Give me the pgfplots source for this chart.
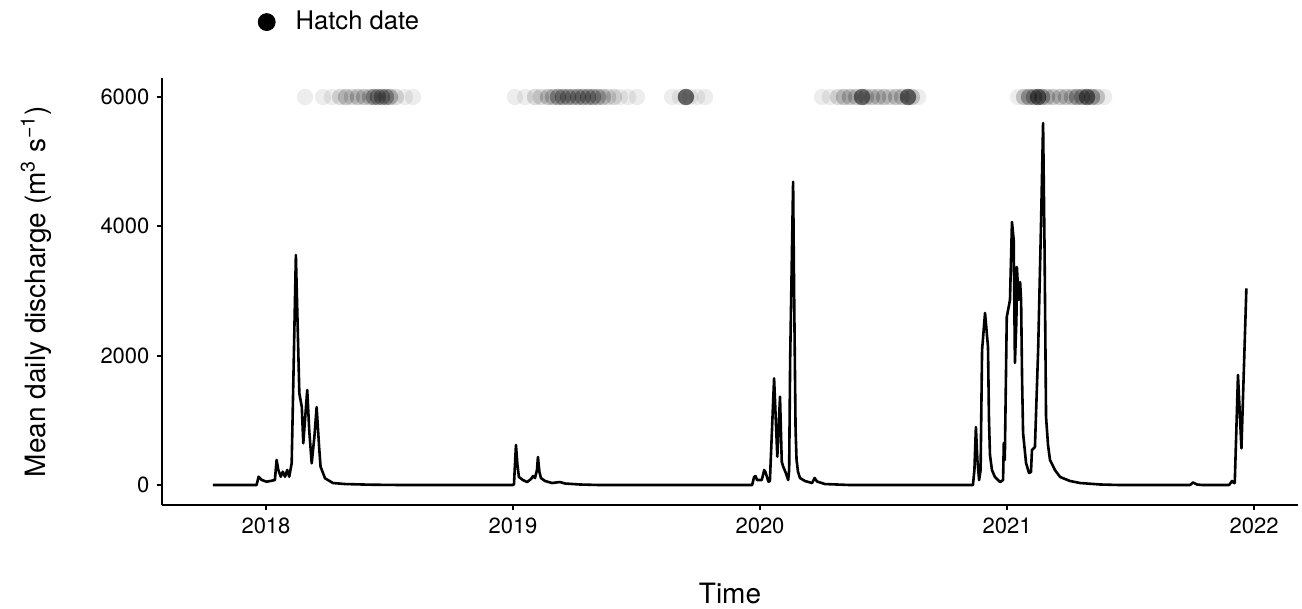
\documentclass[border=0pt]{standalone}
\usepackage{fontspec}
\setmainfont{TeX Gyre Heros}
\usepackage{pgfplots}
\pgfplotsset{compat=1.18}
\usepackage{pgfplotstable}

% mean daily discharge (decimal year, m3/s)
\pgfplotstableread{
year q
2017.785 0
2017.962 0
2017.970 128
2017.983 77
2018.003 51
2018.036 77
2018.043 387
2018.050 232
2018.060 128
2018.068 206
2018.077 128
2018.086 232
2018.094 128
2018.104 336
2018.121 3557
2018.135 1418
2018.145 1206
2018.151 645
2018.167 1469
2018.175 851
2018.185 336
2018.196 747
2018.205 1206
2018.215 592
2018.221 283
2018.239 104
2018.271 31
2018.320 15
2018.421 5
2018.550 0
2019.000 0
2019.004 15
2019.012 619
2019.018 309
2019.024 124
2019.040 77
2019.057 46
2019.073 93
2019.081 139
2019.089 108
2019.097 232
2019.101 433
2019.107 201
2019.113 108
2019.130 62
2019.158 31
2019.190 46
2019.211 23
2019.271 8
2019.350 0
2019.968 0
2019.976 124
2019.982 139
2019.988 77
2020.007 77
2020.017 232
2020.022 201
2020.034 51
2020.040 62
2020.057 1650
2020.070 438
2020.081 1366
2020.088 361
2020.093 294
2020.105 181
2020.114 77
2020.118 232
2020.122 1933
2020.134 4690
2020.138 3015
2020.144 851
2020.148 387
2020.154 201
2020.162 108
2020.182 62
2020.211 31
2020.221 108
2020.231 54
2020.263 15
2020.364 0
2020.862 0
2020.868 232
2020.874 897
2020.880 387
2020.887 77
2020.893 232
2020.899 2088
2020.911 2660
2020.923 2134
2020.927 1005
2020.931 464
2020.939 232
2020.951 124
2020.972 46
2020.984 77
2020.987 650
2020.991 387
2020.999 2598
2021.012 2861
2021.020 4067
2021.027 3789
2021.032 1887
2021.038 2552
2021.040 3371
2021.047 2861
2021.053 3139
2021.057 2861
2021.061 1624
2021.065 804
2021.077 340
2021.089 186
2021.097 201
2021.101 541
2021.109 572
2021.113 588
2021.126 2088
2021.138 4098
2021.146 5598
2021.152 3634
2021.158 1052
2021.166 619
2021.174 387
2021.194 232
2021.215 124
2021.255 62
2021.296 31
2021.377 8
2021.457 0
2021.741 0
2021.753 39
2021.769 8
2021.790 0
2021.899 0
2021.911 62
2021.919 31
2021.922 31
2021.935 1701
2021.949 567
2021.969 3042
}\discharge

% hatch dates, w = number of fish on (about) that date
\pgfplotstableread{
year y w
2018.158 6000 1
2018.231 6000 1
2018.267 6000 1
2018.300 6000 2
2018.324 6000 3
2018.348 6000 2
2018.372 6000 3
2018.397 6000 3
2018.421 6000 3
2018.437 6000 5
2018.453 6000 5
2018.470 6000 5
2018.486 6000 5
2018.502 6000 4
2018.526 6000 2
2018.563 6000 1
2018.595 6000 1
2019.008 6000 1
2019.049 6000 1
2019.089 6000 2
2019.113 6000 2
2019.142 6000 3
2019.162 6000 3
2019.182 6000 5
2019.202 6000 5
2019.223 6000 5
2019.243 6000 4
2019.263 6000 5
2019.283 6000 5
2019.304 6000 5
2019.324 6000 5
2019.344 6000 4
2019.364 6000 3
2019.385 6000 2
2019.409 6000 2
2019.433 6000 1
2019.466 6000 1
2019.502 6000 1
2019.644 6000 1
2019.676 6000 1
2019.700 6000 12
2019.717 6000 1
2019.745 6000 1
2019.777 6000 1
2020.251 6000 1
2020.283 6000 1
2020.316 6000 2
2020.340 6000 3
2020.364 6000 3
2020.389 6000 3
2020.413 6000 10
2020.429 6000 3
2020.453 6000 3
2020.478 6000 3
2020.502 6000 3
2020.526 6000 2
2020.551 6000 3
2020.575 6000 3
2020.599 6000 11
2020.615 6000 3
2020.640 6000 1
2021.045 6000 1
2021.069 6000 3
2021.089 6000 5
2021.109 6000 5
2021.126 6000 10
2021.142 6000 5
2021.162 6000 3
2021.186 6000 3
2021.215 6000 3
2021.239 6000 3
2021.263 6000 3
2021.283 6000 5
2021.304 6000 5
2021.324 6000 10
2021.344 6000 5
2021.364 6000 3
2021.393 6000 1
}\hatch

\begin{document}
\begin{tikzpicture}
\path[use as bounding box] (-81pt,-52pt) rectangle (570pt,252.5pt);
\begin{axis}[
  scale only axis, width=568pt, height=213.5pt,
  xmin=2017.579, xmax=2022.178, ymin=-309, ymax=6294,
  axis x line*=bottom, axis y line*=left,
  axis line style={line width=1.07pt, -},
  tick style={black, line width=1.07pt},
  tick align=outside, major tick length=2.75pt,
  xtick={2018,2019,2020,2021,2022},
  ytick={0,2000,4000,6000},
  scaled x ticks=false, scaled y ticks=false,
  /pgf/number format/.cd, 1000 sep={}, assume math mode=true,
  /pgfplots/.cd,
  tick label style={font=\fontsize{11}{13}\selectfont, black},
  label style={font=\fontsize{14}{17}\selectfont},
  xlabel={Time},
  ylabel={Mean daily discharge (m\textsuperscript{3} s\textsuperscript{\char"2212 1})},
  x label style={at={(axis description cs:0.5,-0.208)}, anchor=center},
  y label style={at={(axis description cs:-0.111,0.5)}, anchor=center},
  legend image code/.code={\fill[black] (0pt,0pt) circle (4.25pt);},
  legend style={draw=none, fill=none, at={(axis description cs:0.084,1.131)},
    anchor=west, inner sep=0pt, nodes={inner sep=0pt},
    font=\fontsize{12.8}{15}\selectfont,
    /tikz/every odd column/.append style={column sep=10pt}},
]
\addplot[only marks, mark=*, mark size=4.1pt, scatter, forget plot,
  point meta=\thisrow{w},
  visualization depends on={\thisrow{w} \as \wgt},
  scatter/use mapped color={draw=black, fill=black},
  scatter/@pre marker code/.append code={%
    \pgfmathsetmacro\op{1-0.93^\wgt}\pgfsetfillopacity{\op}\pgfsetstrokeopacity{0}}]
  table[x=year, y=y] {\hatch};
\addplot[black, line width=1.3pt, line join=round, forget plot]
  table[x=year, y=q] {\discharge};
\addlegendimage{black}
\addlegendentry{Hatch date}
\end{axis}
\end{tikzpicture}
\end{document}
